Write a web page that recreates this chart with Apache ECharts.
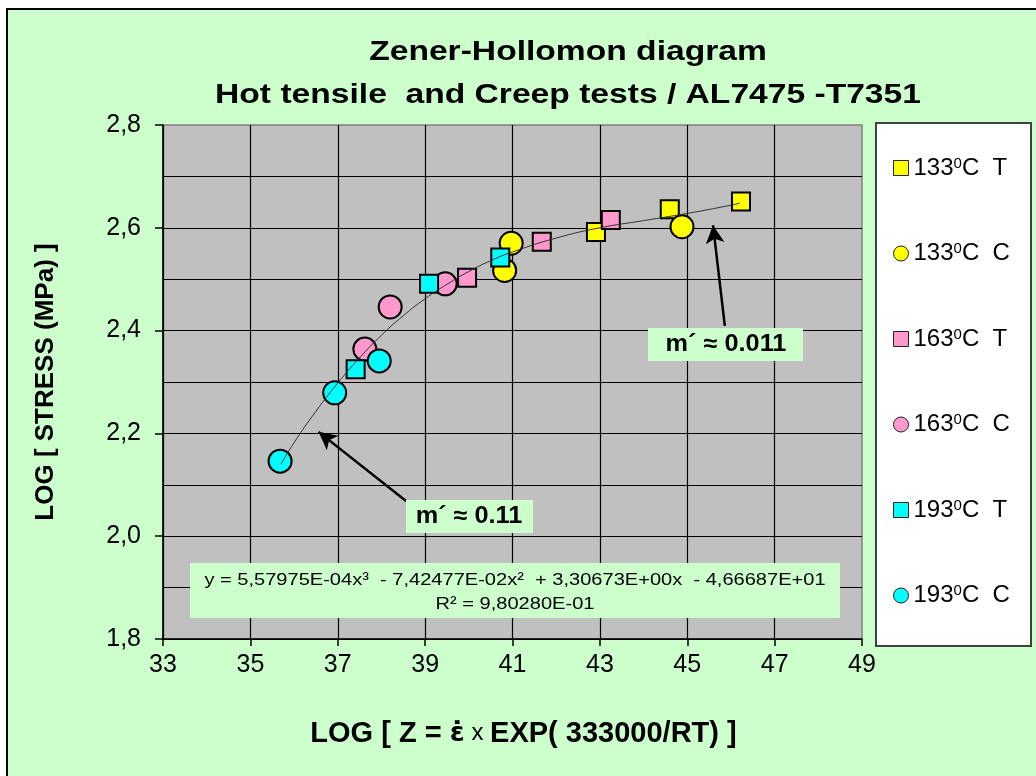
<!doctype html>
<html>
<head>
<meta charset="utf-8">
<title>Zener-Hollomon diagram</title>
<script src="https://cdn.jsdelivr.net/npm/echarts@6/dist/echarts.min.js"></script>
<style>
html,body{margin:0;padding:0;background:#fff;overflow:hidden;}
#frame{position:absolute;left:6px;top:8px;width:1040px;height:780px;background:#ccffcc;border:2px solid #000;box-sizing:border-box;}
#zh{position:absolute;left:0;top:0;width:1036px;height:776px;}
</style>
</head>
<body>
<div id="frame"></div>
<div id="zh"></div>
<script>
// series names (legend order)
var names = ['133⁰C  T', '133⁰C  C', '163⁰C  T', '163⁰C  C', '193⁰C  T', '193⁰C  C'];

// measured points [log Z, log stress]
var t133 = [[42.91, 2.592], [44.60, 2.636], [46.23, 2.651]];
var c133 = [[40.97, 2.570], [40.82, 2.517], [44.88, 2.602]];
var t163 = [[39.96, 2.503], [41.67, 2.573], [43.25, 2.615]];
var c163 = [[37.62, 2.364], [38.20, 2.446], [39.46, 2.491]];
var t193 = [[37.41, 2.325], [39.09, 2.491], [40.72, 2.542]];
var c193 = [[35.68, 2.146], [36.93, 2.279], [37.95, 2.341]];

// trend line
var trendX = [35.7, 36, 36.5, 37, 37.5, 38, 38.5, 39, 39.5, 40, 40.5, 41, 42, 43, 44, 45, 46, 46.2];
var trendY = [2.140, 2.182, 2.243, 2.298, 2.347, 2.391, 2.429, 2.462, 2.490, 2.515, 2.536, 2.553, 2.580, 2.600, 2.614, 2.628, 2.644, 2.648];

var eqLine1 = 'y = 5,57975E-04x³  - 7,42477E-02x²  + 3,30673E+00x  - 4,66687E+01';
var eqLine2 = 'R² = 9,80280E-01';

var FONT = '"Liberation Sans", Arial, sans-serif';

var trend = trendX.map(function (x, i) { return [x, trendY[i]]; });

function pts(name, data, symbol, color) {
	return {
		name: name,
		type: 'scatter',
		data: data,
		symbol: symbol,
		symbolSize: symbol === 'rect' ? 18 : 23,
		itemStyle: { color: color, borderColor: '#000', borderWidth: 2, opacity: 1 },
		z: 3
	};
}

var chart = echarts.init(document.getElementById('zh'), null, { renderer: 'canvas' });

chart.setOption({
	animation: false,
	backgroundColor: 'transparent',
	grid: {
		left: 163, top: 125, right: 174, bottom: 137,
		show: true, backgroundColor: '#c0c0c0', borderColor: '#808080', borderWidth: 1.5
	},
	xAxis: {
		type: 'value', min: 33, max: 49, interval: 2,
		axisLine: { show: true, onZero: false, lineStyle: { color: '#000', width: 1.5 } },
		axisTick: { show: true, length: 7, lineStyle: { color: '#000', width: 1.5 } },
		axisLabel: { fontFamily: FONT, fontSize: 25, color: '#000', margin: 14 },
		splitLine: { show: true, showMaxLine: false, lineStyle: { color: '#000', width: 1.2 } },
		name: '{b|LOG [ Z = }{e|ε\u0307}{x| x }{b|EXP( 333000/RT) ]}',
		nameLocation: 'middle', nameGap: 80,
		nameTextStyle: {
			padding: [0, 0, 0, 22],
			rich: {
				b: { fontFamily: FONT, fontSize: 29, fontWeight: 'bold', color: '#000' },
				e: { fontFamily: '"DejaVu Sans", sans-serif', fontSize: 27, fontWeight: 'bold', color: '#000' },
				x: { fontFamily: FONT, fontSize: 24, color: '#000' }
			}
		}
	},
	yAxis: {
		type: 'value', min: 1.8, max: 2.8, interval: 0.2,
		axisLine: { show: true, onZero: false, lineStyle: { color: '#000', width: 1.5 } },
		axisTick: { show: true, length: 8, lineStyle: { color: '#000', width: 1.5 } },
		axisLabel: {
			fontFamily: FONT, fontSize: 25, color: '#000', margin: 22,
			formatter: function (v) { return v.toFixed(1).replace('.', ','); }
		},
		splitLine: { show: true, showMaxLine: false, lineStyle: { color: '#000', width: 1.2 } },
		minorTick: { show: false, splitNumber: 2 },
		minorSplitLine: { show: true, lineStyle: { color: '#000', width: 1.2 } },
		name: 'LOG [ STRESS (MPa) ]',
		nameLocation: 'middle', nameGap: 104, nameRotate: 90,
		nameTextStyle: { fontFamily: FONT, fontSize: 26, fontWeight: 'bold', color: '#000' }
	},
	legend: {
		data: names,
		orient: 'vertical',
		left: 893, top: 156,
		padding: 0,
		itemWidth: 15, itemHeight: 15,
		itemGap: 61.5,
		z: 10,
		itemStyle: { borderWidth: 1, borderColor: '#222' },
		formatter: function (n) {
			var p = n.split('⁰');
			return '{n|' + p[0] + '}{s|0}{n|' + p[1] + '}';
		},
		textStyle: {
			rich: {
				n: { fontFamily: FONT, fontSize: 24, color: '#000', lineHeight: 24 },
				s: { fontFamily: FONT, fontSize: 15, color: '#000', verticalAlign: 'top', lineHeight: 14 }
			}
		}
	},
	graphic: [
		{ type: 'rect', z: 1, shape: { x: 876, y: 123, width: 155, height: 523 },
			style: { fill: '#fff', stroke: '#404040', lineWidth: 2 } },
		{ type: 'text', x: 568, y: 52, scaleX: 1.2, z: 10,
			style: { text: 'Zener-Hollomon diagram', font: 'bold 28px ' + FONT, fill: '#000', align: 'center', verticalAlign: 'middle' } },
		{ type: 'text', x: 568, y: 95, scaleX: 1.2, z: 10,
			style: { text: 'Hot tensile  and Creep tests / AL7475 -T7351', font: 'bold 28px ' + FONT, fill: '#000', align: 'center', verticalAlign: 'middle' } },
		{ type: 'rect', z: 10, shape: { x: 190, y: 563, width: 650, height: 55 },
			style: { fill: '#ccffcc' } },
		{ type: 'text', x: 515, y: 580, scaleX: 1.18, z: 11,
			style: { text: eqLine1, font: '17px ' + FONT, fill: '#000', align: 'center', verticalAlign: 'middle' } },
		{ type: 'text', x: 515, y: 604, scaleX: 1.18, z: 11,
			style: { text: eqLine2, font: '17px ' + FONT, fill: '#000', align: 'center', verticalAlign: 'middle' } },
		{ type: 'rect', z: 10, shape: { x: 406, y: 500, width: 127, height: 33 },
			style: { fill: '#ccffcc' } },
		{ type: 'text', x: 469, y: 517, scaleX: 1.1, z: 11,
			style: { text: 'm´ ≈ 0.11', font: 'bold 23px ' + FONT, fill: '#000', align: 'center', verticalAlign: 'middle' } },
		{ type: 'rect', z: 10, shape: { x: 648, y: 328, width: 155, height: 33 },
			style: { fill: '#ccffcc' } },
		{ type: 'text', x: 726, y: 345, scaleX: 1.1, z: 11,
			style: { text: 'm´ ≈ 0.011', font: 'bold 23px ' + FONT, fill: '#000', align: 'center', verticalAlign: 'middle' } }
	],
	series: [
		pts(names[0], t133, 'rect', '#ffff00'),
		pts(names[1], c133, 'circle', '#ffff00'),
		pts(names[3], c163, 'circle', '#ff99cc'),
		pts(names[2], t163, 'rect', '#ff99cc'),
		pts(names[4], t193, 'rect', '#00ffff'),
		pts(names[5], c193, 'circle', '#00ffff'),
		{
			name: 'trend',
			type: 'line',
			data: trend,
			smooth: true,
			showSymbol: false,
			symbol: 'none',
			lineStyle: { color: '#333', width: 1 },
			z: 5,
			markLine: {
				silent: true,
				symbol: ['none', 'arrow'],
				symbolSize: [14, 18],
				label: { show: false },
				lineStyle: { color: '#000', width: 2.5, type: 'solid' },
				data: [
					[{ coord: [38.57, 2.068] }, { coord: [36.56, 2.203] }],
					[{ coord: [45.86, 2.409] }, { coord: [45.59, 2.605] }]
				]
			}
		}
	]
});
</script>
</body>
</html>
